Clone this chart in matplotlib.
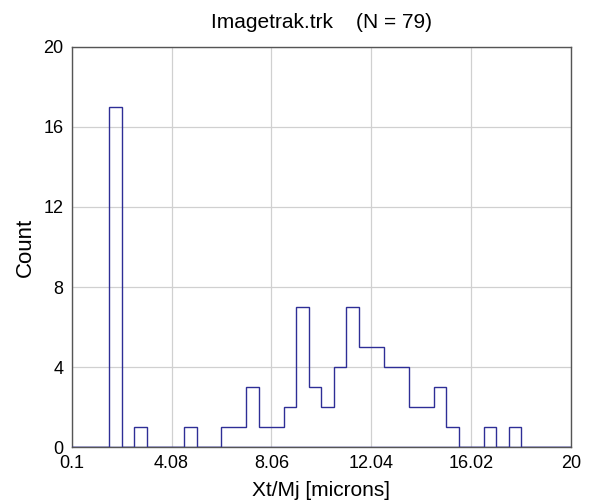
import numpy as np
import matplotlib
matplotlib.use("Agg")
import matplotlib.pyplot as plt

plt.rcParams['font.family'] = ['Liberation Sans', 'DejaVu Sans']

# Histogram of Xt/Mj: 40 equal bins spanning 0.1 .. 20 microns
x_min, x_max, n_bins = 0.1, 20.0, 40
counts = [0, 0, 0, 17, 0, 1, 0, 0, 0, 1,
          0, 0, 1, 1, 3, 1, 1, 2, 7, 3,
          2, 4, 7, 5, 5, 4, 4, 2, 2, 3,
          1, 0, 0, 1, 0, 1, 0, 0, 0, 0]
x_ticks = [0.1, 4.08, 8.06, 12.04, 16.02, 20]
x_tick_labels = ["0.1", "4.08", "8.06", "12.04", "16.02", "20"]
y_ticks = [0, 4, 8, 12, 16, 20]

edges = np.linspace(x_min, x_max, n_bins + 1)
line_color = "#2e2e96"

fig = plt.figure(figsize=(5.89, 5.03), dpi=100)
ax = fig.add_axes([0.1217, 0.1113, 0.8477, 0.7953])

ax.stairs(counts, edges, baseline=0, fill=False, color=line_color, linewidth=1.0, zorder=3)
ax.plot([edges[0], edges[-1]], [0, 0], color=line_color, linewidth=1.0, zorder=3)

ax.set_xlim(x_min, x_max)
ax.set_ylim(0, 20)
ax.set_xticks(x_ticks)
ax.set_xticklabels(x_tick_labels)
ax.set_yticks(y_ticks)
ax.grid(True, color="#d0d0d0", linewidth=0.9)
ax.set_axisbelow(True)
ax.tick_params(length=0, labelsize=13, colors="black")
ax.tick_params(axis="x", pad=6)
ax.tick_params(axis="y", pad=6)
for s in ax.spines.values():
    s.set_color("#555555")
    s.set_linewidth(1.0)

ax.set_xlabel("Xt/Mj [microns]", fontsize=15, labelpad=6)
ax.set_ylabel("Count", fontsize=16, labelpad=5)
ax.set_title("Imagetrak.trk    (N = 79)", fontsize=15, pad=14)

fig.savefig("out.png", dpi=100, facecolor="white")
